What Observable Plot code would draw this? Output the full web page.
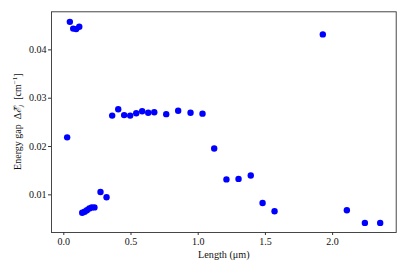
<!DOCTYPE html>
<html><head><meta charset="utf-8">
<script src="https://cdn.jsdelivr.net/npm/d3@7"></script>
<script src="https://cdn.jsdelivr.net/npm/@observablehq/plot@0.6"></script>
<style>body{margin:0;background:#fff} svg text{font-family:"Liberation Serif","Times New Roman",serif !important}</style>
</head><body><div id="chart"></div>
<script>
const lengths = [0.025, 0.045, 0.070, 0.092, 0.115, 0.137, 0.155, 0.172, 0.190, 0.208, 0.228, 0.273, 0.318,
  0.360, 0.405, 0.449, 0.494, 0.539, 0.583, 0.628, 0.673, 0.762, 0.851, 0.943, 1.032,
  1.119, 1.210, 1.300, 1.391, 1.479, 1.568, 1.927, 2.106, 2.240, 2.354];
const gaps = [0.0219, 0.0458, 0.0444, 0.0443, 0.0448, 0.0063, 0.0065, 0.0068, 0.0072, 0.0074, 0.0074, 0.0106, 0.0095,
  0.0264, 0.0277, 0.0265, 0.0264, 0.0269, 0.0273, 0.0270, 0.0271, 0.0267, 0.0274, 0.0270, 0.0268,
  0.0196, 0.0132, 0.0133, 0.0140, 0.0083, 0.0066, 0.0432, 0.0068, 0.0042, 0.0042];
const xTicks = [0, 0.5, 1.0, 1.5, 2.0];
const yTicks = [0.01, 0.02, 0.03, 0.04];
const xLabel = "Length (μm)";

const data = lengths.map((x, i) => ({x, y: gaps[i]}));

const chart = Plot.plot({
  width: 407, height: 271,
  marginLeft: 51, marginRight: 11.3, marginTop: 11.3, marginBottom: 39,
  style: {fontFamily: "'Liberation Serif', serif", fontSize: "10px", color: "#111", background: "#fff"},
  x: {domain: [-0.0915, 2.473]},
  y: {domain: [0.00221, 0.04788]},
  marks: [
    Plot.axisX({ticks: xTicks, tickFormat: d3.format(".1f"), tickSize: 3, tickPadding: 2, label: null, stroke: "#333", fill: "#111"}),
    Plot.axisY({ticks: yTicks, tickFormat: d3.format(".2f"), tickSize: 3, tickPadding: 2, label: null, stroke: "#333", fill: "#111"}),
    Plot.frame({stroke: "#333", strokeWidth: 0.9}),
    Plot.dot(data, {x: "x", y: "y", r: 3.2, fill: "#0000ff", stroke: null}),
    Plot.text([xLabel], {frameAnchor: "bottom", dy: 25, fontSize: 10.2, fill: "#111"})
  ]
});
document.getElementById("chart").append(chart);

// rotated y-axis label with subscript/superscript
const svg = d3.select(chart);
const t = svg.append("text")
  .attr("transform", "translate(21,121.7) rotate(-90)")
  .attr("text-anchor", "middle")
  .attr("font-size", 10)
  .attr("fill", "#111");
t.append("tspan").text("Energy gap  Δ");
t.append("tspan").attr("font-style", "italic").text("ℰ̃");
t.append("tspan").attr("font-style", "italic").attr("font-size", 7).attr("dy", 2).text("j");
t.append("tspan").attr("dy", -2).text("  [cm");
t.append("tspan").attr("font-size", 7).attr("dy", -4).text("−1");
t.append("tspan").attr("dy", 4).text("]");
</script>
</body></html>
